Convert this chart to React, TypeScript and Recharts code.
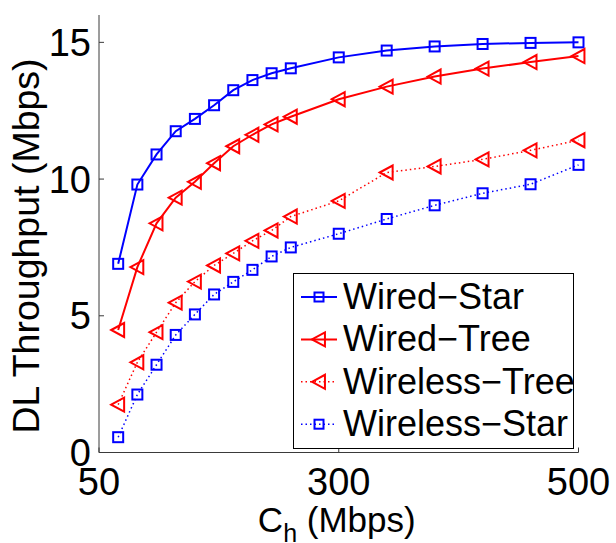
import React from 'react';
import { LineChart, Line, XAxis, YAxis, Legend } from 'recharts';

const xValues = [20, 40, 60, 80, 100, 120, 140, 160, 180, 200, 250, 300, 350, 400, 450, 500];
const wiredStar = [6.9, 9.8, 10.9, 11.75, 12.2, 12.7, 13.25, 13.62, 13.87, 14.05, 14.45, 14.7, 14.85, 14.94, 14.98, 15.0];
const wiredTree = [4.48, 6.78, 8.38, 9.32, 9.9, 10.58, 11.2, 11.62, 12.0, 12.28, 12.92, 13.38, 13.75, 14.04, 14.28, 14.5];
const wirelessTree = [1.75, 3.3, 4.4, 5.48, 6.25, 6.84, 7.28, 7.74, 8.12, 8.63, 9.2, 10.24, 10.46, 10.72, 11.05, 11.42];
const wirelessStar = [0.56, 2.12, 3.21, 4.3, 5.05, 5.78, 6.24, 6.68, 7.17, 7.5, 8.0, 8.54, 9.04, 9.48, 9.81, 10.52];
const seriesNames = ['Wired\u2212Star', 'Wired\u2212Tree', 'Wireless\u2212Tree', 'Wireless\u2212Star'];
const xTicks = [0, 250, 500];
const xTickLabels = ['50', '300', '500'];
const yTicks = [0, 5, 10, 15];

const FONT = '"Liberation Sans", Arial, Helvetica, sans-serif';
const BLUE = '#0000ff';
const RED = '#ff0000';
const AXIS = '#3a3a3a';

const data = xValues.map((x, i) => ({
  x,
  ws: wiredStar[i],
  wt: wiredTree[i],
  wlt: wirelessTree[i],
  wls: wirelessStar[i],
}));

const squareShape = (cx: number, cy: number, color: string, h: number, key?: any) => (
  <rect key={key} x={cx - h} y={cy - h} width={2 * h} height={2 * h} fill="none" stroke={color} strokeWidth={2} strokeDasharray="none" />
);
const triShape = (cx: number, cy: number, color: string, h: number, key?: any) => (
  <polygon
    key={key}
    points={`${cx - h},${cy} ${cx + h * 0.85},${cy - h} ${cx + h * 0.85},${cy + h}`}
    fill="none"
    stroke={color}
    strokeWidth={2}
    strokeDasharray="none"
    strokeLinejoin="miter"
  />
);

const makeDot = (kind: 'sq' | 'tri', color: string) => (props: any) => {
  const { cx, cy, index } = props;
  if (cx == null || cy == null) return <g key={`e${index}`} />;
  return kind === 'sq' ? squareShape(cx, cy, color, 5, `d${index}`) : triShape(cx, cy, color, 7, `d${index}`);
};

const YTick = (props: any) => {
  const { x, y, payload } = props;
  return (
    <g>
      <line x1={x} x2={x + 5} y1={y} y2={y} stroke={AXIS} strokeWidth={1} />
      <text x={x - 8} y={y + 13.6} textAnchor="end" fontSize={38} fontFamily={FONT} fill="#000">
        {payload.value}
      </text>
    </g>
  );
};

const XTick = (props: any) => {
  const { x, y, payload } = props;
  const idx = xTicks.indexOf(payload.value);
  return (
    <g>
      <line x1={x} x2={x} y1={y} y2={y - 5} stroke={AXIS} strokeWidth={1} />
      <text x={x} y={y + 42.5} textAnchor="middle" fontSize={38} fontFamily={FONT} fill="#000">
        {xTickLabels[idx]}
      </text>
    </g>
  );
};

const XLabel = (props: any) => {
  const vb = props.viewBox || { x: 99, y: 452.5, width: 479.5, height: 90 };
  const cx = vb.x + vb.width / 2 - 2;
  return (
    <text x={cx} y={532} textAnchor="middle" fontSize={35} fontFamily={FONT} fill="#000" style={{ whiteSpace: 'pre' }}>
      <tspan>C</tspan>
      <tspan fontSize={25} dy={10}>h</tspan>
      <tspan dy={-10}>{' (Mbps)'}</tspan>
    </text>
  );
};

const YLabel = () => (
  <text x={39} y={246} transform="rotate(-90 39 246)" textAnchor="middle" fontSize={37.5} fontFamily={FONT} fill="#000">
    DL Throughput (Mbps)
  </text>
);

const legendItems = [
  { name: seriesNames[0], color: BLUE, kind: 'sq', dash: 'none', w: 2 },
  { name: seriesNames[1], color: RED, kind: 'tri', dash: 'none', w: 2 },
  { name: seriesNames[2], color: RED, kind: 'tri', dash: '1.5 3', w: 1.5 },
  { name: seriesNames[3], color: BLUE, kind: 'sq', dash: '1.5 3', w: 1.5 },
];

const renderLegend = () => (
  <svg width={281} height={176} style={{ display: 'block' }}>
    <rect x={0.5} y={0.5} width={280} height={175} fill="#fff" stroke="#000" strokeWidth={1} />
    {legendItems.map((it, i) => {
      const cy = 24 + i * 42.4;
      return (
        <g key={it.name}>
          <line x1={8} x2={44} y1={cy} y2={cy} stroke={it.color} strokeWidth={it.w} strokeDasharray={it.dash} />
          {it.kind === 'sq' ? squareShape(26, cy, it.color, 4.5) : triShape(26, cy, it.color, 7)}
          <text x={50} y={cy + 11.8} fontSize={36} fontFamily={FONT} fill="#000">
            {it.name}
          </text>
        </g>
      );
    })}
  </svg>
);

export default function App() {
  return (
    <div style={{ position: 'absolute', left: 0, top: 0, width: 616, height: 543, background: '#fff' }}>
      <LineChart width={616} height={543} data={data} margin={{ top: 15, right: 37.5, left: 0, bottom: 0 }}>
        <XAxis
          dataKey="x"
          type="number"
          domain={[0, 500]}
          ticks={xTicks}
          interval={0}
          height={90.5}
          axisLine={{ stroke: AXIS, strokeWidth: 1 }}
          tickLine={false}
          tickSize={0}
          tickMargin={0}
          tick={<XTick />}
          label={<XLabel />}
        />
        <YAxis
          type="number"
          domain={[0, 16]}
          ticks={yTicks}
          interval={0}
          width={99}
          axisLine={{ stroke: AXIS, strokeWidth: 1 }}
          tickLine={false}
          tickSize={0}
          tickMargin={0}
          tick={<YTick />}
          label={<YLabel />}
        />
        <Line dataKey="ws" name={seriesNames[0]} stroke={BLUE} strokeWidth={2} dot={makeDot('sq', BLUE)} isAnimationActive={false} />
        <Line dataKey="wt" name={seriesNames[1]} stroke={RED} strokeWidth={2} dot={makeDot('tri', RED)} isAnimationActive={false} />
        <Line dataKey="wlt" name={seriesNames[2]} stroke={RED} strokeWidth={1.5} strokeDasharray="1.5 3" dot={makeDot('tri', RED)} isAnimationActive={false} />
        <Line dataKey="wls" name={seriesNames[3]} stroke={BLUE} strokeWidth={1.5} strokeDasharray="1.5 3" dot={makeDot('sq', BLUE)} isAnimationActive={false} />
        <Legend
          layout="vertical"
          align="center"
          verticalAlign="middle"
          content={renderLegend}
          wrapperStyle={{ position: 'absolute', left: 293, top: 273, width: 281, height: 176 }}
        />
      </LineChart>
    </div>
  );
}
